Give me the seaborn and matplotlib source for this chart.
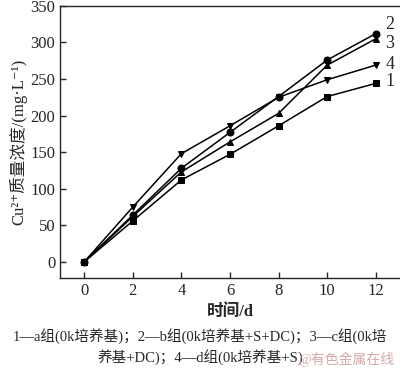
import matplotlib
matplotlib.use("Agg")
import matplotlib.pyplot as plt
import seaborn as sns
import pandas as pd

days = [0, 2, 4, 6, 8, 10, 12]
series_labels = ["1", "2", "3", "4"]
group1 = [0, 56, 112, 147, 186, 226, 244]
group2 = [0, 64, 128, 177, 226, 276, 312]
group3 = [0, 62, 123, 164, 203, 269, 305]
group4 = [0, 75, 148, 186, 225, 249, 269]
y_ticks = [0, 50, 100, 150, 200, 250, 300, 350]

sns.set_style("ticks")
plt.rcParams["font.family"] = ["Liberation Serif", "DejaVu Serif", "Noto Sans CJK SC"]

df = pd.DataFrame({
    "day": days * 4,
    "value": group1 + group2 + group3 + group4,
    "group": sum([[s] * len(days) for s in series_labels], []),
})

fig = plt.figure(figsize=(4.0, 3.7), dpi=100)
ax = fig.add_axes([0.15, 0.249, 0.85, 0.735])

markers = {"1": "s", "2": "o", "3": "^", "4": "v"}
sns.lineplot(data=df, x="day", y="value", style="group", markers=markers,
             dashes=False, color="black", linewidth=1.1, markersize=5,
             markeredgecolor="black", legend=False, ax=ax)

# labels at the line ends
label_y = {"2": 324, "3": 298, "4": 270, "1": 246}
for s, yv in label_y.items():
    ax.text(12.4, yv, s, fontsize=13, va="center", ha="left")

ax.set_xlim(-1, 13)
ax.set_ylim(-22, 350)
ax.set_xticks(days)
ax.set_yticks(y_ticks)
ax.tick_params(direction="in", labelsize=12, length=4, width=1)
ax.spines["right"].set_visible(False)
for sp in ["left", "top", "bottom"]:
    ax.spines[sp].set_linewidth(1.0)

ax.set_xlabel("时间/d", fontsize=12, fontweight="bold", labelpad=4)
ax.set_ylabel("Cu²⁺质量浓度/(mg·L⁻¹)", fontsize=12, labelpad=2)

fig.text(0.5, 0.093, "1—a组(0k培养基)；2—b组(0k培养基+S+DC)；3—c组(0k培",
         ha="center", va="center", fontsize=10.5)
fig.text(0.243, 0.035, "养基+DC)；4—d组(0k培养基+S)",
         ha="left", va="center", fontsize=10.5)
fig.text(0.745, 0.03, "@有色金属在线", ha="left", va="center",
         fontsize=10, color="#d8a8a8")

fig.savefig("out.png", dpi=100)
